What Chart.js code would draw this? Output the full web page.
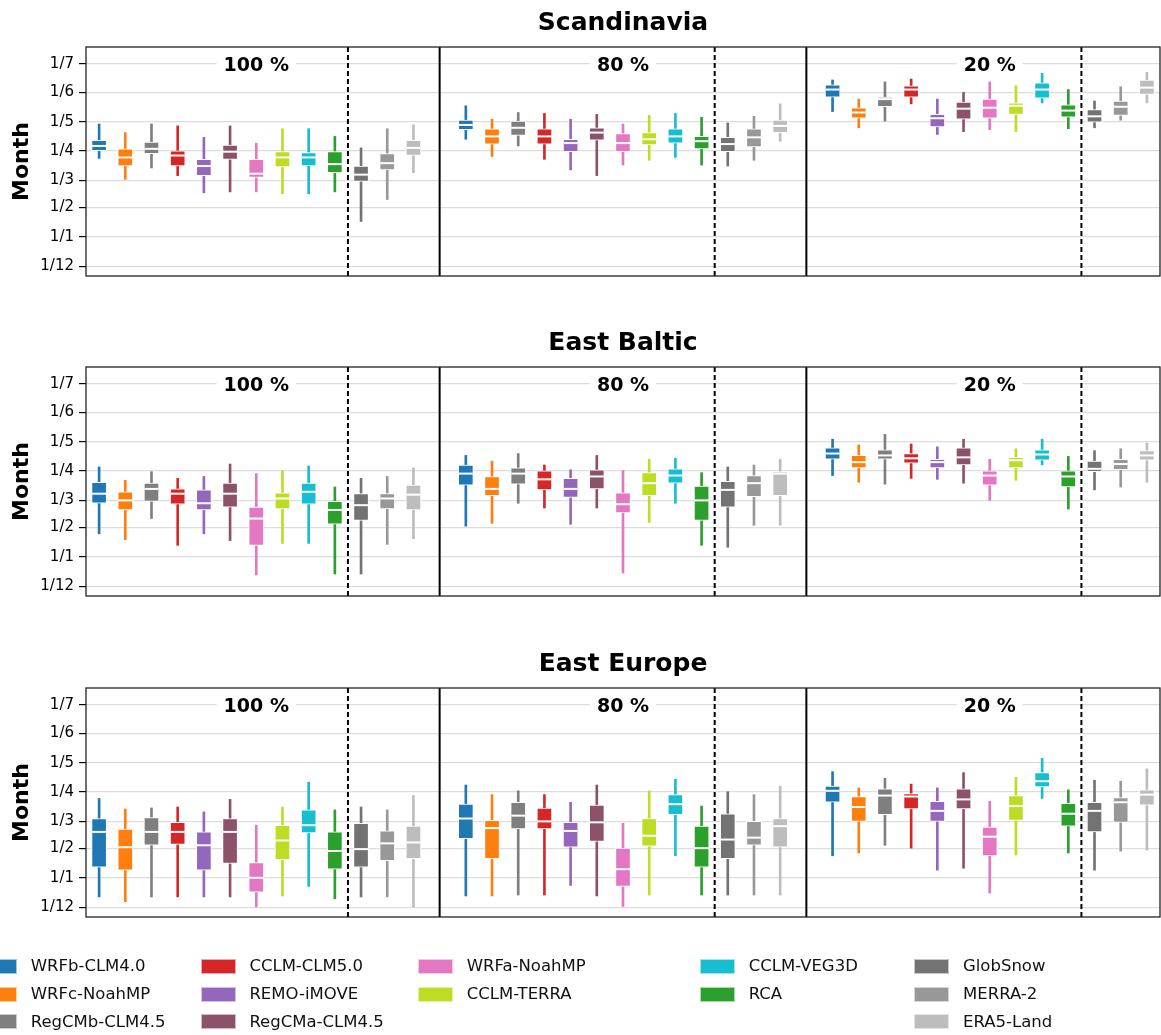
<!DOCTYPE html>
<html>
<head>
<meta charset="utf-8">
<script src="https://cdn.jsdelivr.net/npm/chart.js@4.4.0/dist/chart.umd.min.js"></script>
<style>
  body { margin: 0; background: #fff; width: 1161px; height: 1035px; position: relative; overflow: hidden; font-family: 'DejaVu Sans', sans-serif; }
  canvas { position: absolute; left: 0; }
  .lg-patch { position: absolute; width: 35px; height: 15px; box-sizing: border-box; border: 1px solid rgba(255,255,255,0.6); }
  .lg-text { position: absolute; font-size: 16.5px; line-height: 20px; color: #111; white-space: nowrap; }
</style>
</head>
<body>
<canvas id="chartScandinavia" width="1161" height="320" style="top:0px"></canvas>
<canvas id="chartEastBaltic" width="1161" height="320" style="top:320px"></canvas>
<canvas id="chartEastEurope" width="1161" height="320" style="top:641px"></canvas>
<div id="legend"></div>
<script>
var seriesNames = ['WRFb-CLM4.0', 'WRFc-NoahMP', 'RegCMb-CLM4.5', 'CCLM-CLM5.0', 'REMO-iMOVE',
  'RegCMa-CLM4.5', 'WRFa-NoahMP', 'CCLM-TERRA', 'CCLM-VEG3D', 'RCA',
  'GlobSnow', 'MERRA-2', 'ERA5-Land'];
var seriesColors = ['#1f77b4', '#ff7f0e', '#7f7f7f', '#d62728', '#9467bd',
  '#8b5269', '#e377c2', '#bddc24', '#17becf', '#2ca02c',
  '#737373', '#989898', '#bdbdbd'];
var groupLabels = ['100 %', '80 %', '20 %'];
// days counted from 1 December
var tickDays = [0, 31, 62, 90, 121, 151, 182, 212];
var tickLabels = ['1/12', '1/1', '1/2', '1/3', '1/4', '1/5', '1/6', '1/7'];

// values per group (100 %, 80 %, 20 %), 13 series each
// Scandinavia
var scanLow = [113, 91, 103, 95, 77, 78, 78, 76, 76, 78, 47, 70, 98,
  133, 115, 126, 112, 101, 95, 106, 111, 114, 106, 105, 111, 131,
  162, 145, 152, 170, 138, 141, 143, 141, 171, 144, 145, 153, 171];
var scanQ1 = [121, 105, 118, 105, 95, 112, 93, 104, 105, 98, 89, 101, 116,
  143, 128, 137, 128, 120, 132, 120, 127, 129, 123, 120, 125, 140,
  177, 155, 167, 177, 146, 154, 155, 159, 176, 156, 151, 158, 180];
var scanMed = [126, 114, 123, 116, 105, 120, 97, 114, 114, 107, 96, 108, 124,
  148, 136, 145, 136, 129, 140, 129, 133, 136, 131, 128, 135, 147,
  185, 161, 175, 185, 155, 165, 166, 168, 185, 163, 157, 167, 187];
var scanQ3 = [132, 123, 130, 121, 112, 127, 112, 120, 119, 120, 105, 118, 132,
  153, 144, 152, 144, 133, 145, 139, 140, 144, 136, 135, 144, 153,
  190, 166, 177, 189, 159, 172, 175, 171, 192, 169, 164, 173, 195];
var scanHigh = [149, 140, 149, 147, 135, 147, 129, 144, 144, 136, 124, 144, 148,
  168, 154, 161, 160, 154, 159, 149, 158, 160, 156, 150, 157, 170,
  195, 175, 193, 196, 175, 182, 193, 189, 202, 185, 173, 188, 203];

// East Baltic
var baltLow = [55, 49, 71, 43, 55, 48, 12, 45, 45, 13, 13, 44, 50,
  63, 66, 87, 82, 65, 82, 14, 67, 87, 43, 41, 64, 64,
  116, 109, 107, 113, 112, 108, 90, 111, 127, 81, 101, 104, 109];
var baltQ1 = [87, 80, 89, 86, 80, 83, 43, 81, 86, 65, 69, 81, 80,
  106, 95, 107, 101, 93, 102, 77, 95, 108, 69, 83, 94, 95,
  133, 124, 133, 129, 124, 127, 106, 124, 132, 104, 120, 122, 132];
var baltMed = [97, 90, 102, 97, 87, 97, 71, 92, 99, 80, 85, 92, 96,
  118, 102, 118, 112, 102, 115, 86, 108, 116, 90, 101, 108, 118,
  139, 130, 137, 134, 130, 135, 116, 132, 138, 115, 123, 128, 137];
var baltQ3 = [109, 99, 108, 102, 101, 108, 83, 98, 108, 89, 97, 97, 106,
  127, 115, 124, 121, 113, 122, 98, 119, 123, 105, 110, 116, 120,
  145, 137, 143, 139, 133, 145, 121, 135, 143, 121, 131, 133, 142];
var baltHigh = [125, 111, 120, 113, 115, 128, 118, 121, 126, 104, 113, 115, 124,
  137, 131, 139, 127, 122, 137, 121, 133, 134, 119, 125, 127, 133,
  154, 148, 159, 149, 146, 154, 133, 144, 154, 136, 142, 144, 150];

// East Europe
var eeurLow = [11, 6, 11, 11, 11, 11, 0, 12, 22, 9, 11, 11, 0,
  12, 12, 13, 13, 23, 12, 1, 13, 54, 13, 13, 13, 13,
  54, 57, 65, 62, 39, 41, 15, 55, 114, 57, 39, 59, 60];
var eeurQ1 = [42, 39, 65, 66, 39, 46, 16, 50, 78, 40, 42, 49, 51,
  72, 51, 82, 82, 63, 69, 22, 64, 97, 42, 51, 65, 63,
  110, 90, 97, 103, 90, 103, 54, 91, 126, 85, 79, 89, 107];
var eeurMed = [79, 63, 79, 79, 65, 79, 31, 70, 86, 59, 61, 67, 68,
  93, 83, 96, 90, 80, 89, 40, 75, 108, 62, 71, 73, 85,
  122, 105, 117, 116, 101, 113, 74, 106, 132, 98, 101, 110, 118];
var eeurQ3 = [93, 82, 94, 89, 79, 93, 47, 86, 102, 79, 88, 80, 85,
  108, 91, 110, 104, 89, 107, 62, 93, 118, 85, 98, 90, 93,
  127, 116, 124, 119, 111, 124, 84, 117, 141, 109, 110, 115, 123];
var eeurHigh = [114, 103, 104, 105, 100, 113, 86, 105, 131, 102, 105, 102, 117,
  128, 118, 122, 118, 110, 128, 88, 122, 134, 106, 121, 118, 127,
  142, 125, 135, 129, 125, 141, 111, 136, 156, 123, 133, 132, 145];

var nSeries = seriesNames.length;
var nModels = 10;
var groupStride = nSeries + 1;

boxPositions = () => {
  let xs = [];
  for (let g = 0; g < groupLabels.length; g++)
    for (let k = 0; k < nSeries; k++) xs.push(g * groupStride + k);
  return xs;
};

// separators, group labels and frame
var panelDecor = {
  id: 'panelDecor',
  beforeDatasetsDraw: function (chart) {
    let ctx = chart.ctx;
    let a = chart.chartArea;
    let x = chart.scales.x;
    let y = chart.scales.y;
    ctx.save();
    ctx.strokeStyle = '#000';
    ctx.lineWidth = 2;
    for (let g = 0; g < groupLabels.length; g++) {
      let xd = x.getPixelForValue(g * groupStride + nModels - 0.5);
      ctx.setLineDash([5, 3]);
      ctx.beginPath();
      ctx.moveTo(xd, a.top);
      ctx.lineTo(xd, a.bottom);
      ctx.stroke();
      if (g > 0) {
        let xs = x.getPixelForValue(g * groupStride - 1);
        ctx.setLineDash([]);
        ctx.beginPath();
        ctx.moveTo(xs, a.top);
        ctx.lineTo(xs, a.bottom);
        ctx.stroke();
      }
      ctx.setLineDash([]);
      let xc = x.getPixelForValue(g * groupStride + 6);
      let yc = y.getPixelForValue(tickDays[tickDays.length - 1]) + 2;
      ctx.font = 'bold 19px "DejaVu Sans"';
      let w = ctx.measureText(groupLabels[g]).width;
      ctx.fillStyle = '#fff';
      ctx.fillRect(xc - w / 2 - 7, yc - 12, w + 14, 24);
      ctx.fillStyle = '#000';
      ctx.textAlign = 'center';
      ctx.textBaseline = 'middle';
      ctx.fillText(groupLabels[g], xc, yc);
    }
    ctx.restore();
  },
  afterDraw: function (chart) {
    let ctx = chart.ctx;
    let a = chart.chartArea;
    ctx.save();
    ctx.strokeStyle = '#222';
    ctx.lineWidth = 1.3;
    ctx.strokeRect(a.left, a.top, a.right - a.left, a.bottom - a.top);
    ctx.restore();
  }
};

makeChart = (canvasId, title, low, q1, med, q3, high) => {
  let xs = boxPositions();
  let colors = xs.map((x, i) => seriesColors[i % nSeries]);
  return new Chart(document.getElementById(canvasId), {
    type: 'bar',
    plugins: [panelDecor],
    data: {
      datasets: [
        {
          type: 'scatter',
          label: 'median',
          data: xs.map((x, i) => ({ x: x, y: med[i] })),
          pointStyle: 'line',
          pointRadius: 7,
          pointHoverRadius: 7,
          pointBorderColor: '#fff',
          pointBackgroundColor: '#fff',
          pointBorderWidth: 2,
          order: 1,
        },
        {
          type: 'bar',
          label: 'box',
          data: xs.map((x, i) => ({ x: x, y: [q1[i], q3[i]] })),
          backgroundColor: colors,
          borderColor: '#fff',
          borderWidth: 1,
          borderSkipped: false,
          barThickness: 15,
          grouped: false,
          order: 2,
        },
        {
          type: 'bar',
          label: 'whisker',
          data: xs.map((x, i) => ({ x: x, y: [low[i], high[i]] })),
          backgroundColor: colors,
          borderWidth: 0,
          barThickness: 2,
          grouped: false,
          order: 3,
        },
      ],
    },
    options: {
      responsive: false,
      animation: false,
      devicePixelRatio: 1,
      events: [],
      layout: { autoPadding: false, padding: { top: 0, right: 1, bottom: 44, left: 0 } },
      scales: {
        x: {
          type: 'linear',
          display: false,
          offset: false,
          min: -0.5,
          max: groupLabels.length * groupStride - 1.5,
        },
        y: {
          min: -10,
          max: 229.5,
          afterBuildTicks: (s) => {
            s.ticks = tickDays.map((v) => ({ value: v }));
          },
          afterFit: (s) => {
            s.width = 86;
          },
          ticks: {
            autoSkip: false,
            padding: 5,
            color: '#000',
            font: { family: 'DejaVu Sans', size: 15 },
            callback: (v, i) => tickLabels[i],
          },
          grid: {
            color: '#dddddd',
            lineWidth: 1.2,
            tickColor: '#000',
            tickLength: 7,
            tickWidth: 1.2,
          },
          border: { display: false },
          title: {
            display: true,
            text: 'Month',
            color: '#000',
            font: { family: 'DejaVu Sans', size: 22, weight: 'bold' },
            padding: { top: 9, bottom: 0 },
          },
        },
      },
      plugins: {
        legend: { display: false },
        tooltip: { enabled: false },
        title: {
          display: true,
          text: title,
          fullSize: false,
          color: '#000',
          font: { family: 'DejaVu Sans', size: 25, weight: 'bold' },
          padding: { top: 8, bottom: 9 },
        },
      },
    },
  });
};

makeChart('chartScandinavia', 'Scandinavia', scanLow, scanQ1, scanMed, scanQ3, scanHigh);
makeChart('chartEastBaltic', 'East Baltic', baltLow, baltQ1, baltMed, baltQ3, baltHigh);
makeChart('chartEastEurope', 'East Europe', eeurLow, eeurQ1, eeurMed, eeurQ3, eeurHigh);

// legend, 5 columns
var legendCols = [-18, 200.7, 418, 700, 914.3];
var legendRows = [966, 994, 1021.7];
var legendSlots = [[0, 0], [0, 1], [0, 2], [1, 0], [1, 1], [1, 2], [2, 0], [2, 1],
  [3, 0], [3, 1], [4, 0], [4, 1], [4, 2]];
var legendEl = document.getElementById('legend');
for (let i = 0; i < nSeries; i++) {
  let cx = legendCols[legendSlots[i][0]];
  let cy = legendRows[legendSlots[i][1]];
  let patch = document.createElement('div');
  patch.className = 'lg-patch';
  patch.style.left = cx + 'px';
  patch.style.top = (cy - 7.5) + 'px';
  patch.style.background = seriesColors[i];
  legendEl.appendChild(patch);
  let txt = document.createElement('div');
  txt.className = 'lg-text';
  txt.style.left = (cx + 48.7) + 'px';
  txt.style.top = (cy - 10) + 'px';
  txt.textContent = seriesNames[i];
  legendEl.appendChild(txt);
}
</script>
</body>
</html>
